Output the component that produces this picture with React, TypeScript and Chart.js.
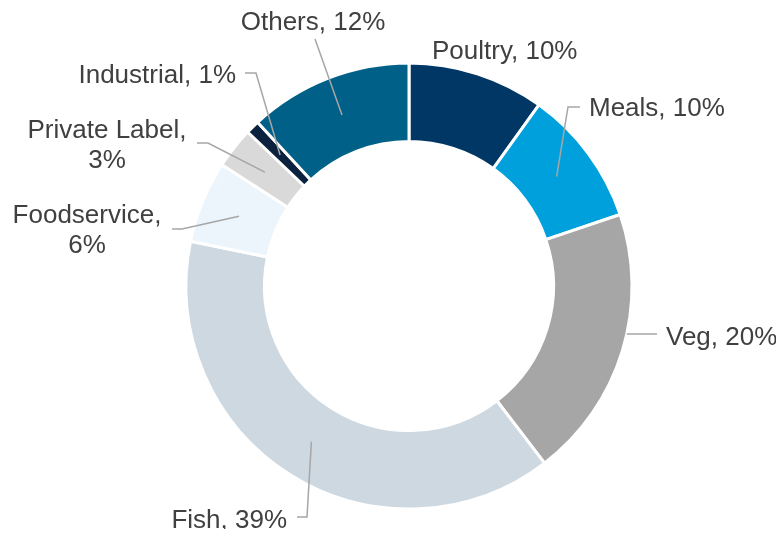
import React, { useEffect, useRef } from "react";
import { Chart, registerables } from "chart.js";

Chart.register(...registerables);

const categories = ["Poultry", "Meals", "Veg", "Fish", "Foodservice", "Private Label", "Industrial", "Others"];
const shares = [10, 10, 20, 39, 6, 3, 1, 12];
const colors = ["#003764", "#00A0DC", "#A6A6A6", "#CDD8E1", "#EBF5FB", "#D9D9D9", "#0C2340", "#006087"];

// label layout (canvas coords): text lines, anchor, alignment, leader line start/elbow
type LabelLayout = {
  lines: string[];
  x: number;
  y: number; // baseline of first line
  align: CanvasTextAlign;
  leader: number[][] | null; // points before the arc anchor
  toOuter?: boolean;
};

const labelLayout: LabelLayout[] = [
  { lines: ["Poultry, 10%"], x: 424, y: 51, align: "left", leader: null },
  { lines: ["Meals, 10%"], x: 581, y: 108, align: "left", leader: [[572, 99], [560, 99]] },
  { lines: ["Veg, 20%"], x: 658, y: 337, align: "left", leader: [[649, 326]], toOuter: true },
  { lines: ["Fish, 39%"], x: 279, y: 520, align: "right", leader: [[289, 509], [299, 509]] },
  { lines: ["Foodservice,", "6%"], x: 79, y: 215, align: "center", leader: [[164, 221], [174, 221]] },
  { lines: ["Private Label,", "3%"], x: 99, y: 130, align: "center", leader: [[189, 135], [200, 135]] },
  { lines: ["Industrial, 1%"], x: 228, y: 75, align: "right", leader: [[237, 65], [248, 65]] },
  { lines: ["Others, 12%"], x: 305, y: 22, align: "center", leader: [[307, 31]] },
];

const FONT = "26px 'Liberation Sans', Arial, sans-serif";
const TEXT_COLOR = "#404040";
const LINE_COLOR = "#A6A6A6";

const labelPlugin = {
  id: "outerLabels",
  afterDraw(chart: any) {
    const ctx = chart.ctx as CanvasRenderingContext2D;
    const meta = chart.getDatasetMeta(0);
    ctx.save();
    meta.data.forEach((arc: any, i: number) => {
      const lay = labelLayout[i];
      if (!lay) return;
      if (lay.leader) {
        const pts = lay.leader.map((p) => [p[0], p[1]]);
        let end: number[];
        if (lay.toOuter) {
          const y = pts[0][1];
          const dy = y - arc.y;
          const r = arc.outerRadius;
          const dx = Math.sqrt(Math.max(r * r - dy * dy, 0));
          end = [arc.x + dx, y];
        } else {
          const pos = arc.tooltipPosition(false);
          end = [pos.x, pos.y];
        }
        pts.push(end);
        ctx.beginPath();
        ctx.strokeStyle = LINE_COLOR;
        ctx.lineWidth = 1.5;
        ctx.moveTo(pts[0][0], pts[0][1]);
        for (let k = 1; k < pts.length; k++) ctx.lineTo(pts[k][0], pts[k][1]);
        ctx.stroke();
      }
      ctx.font = FONT;
      ctx.fillStyle = TEXT_COLOR;
      ctx.textAlign = lay.align;
      ctx.textBaseline = "alphabetic";
      lay.lines.forEach((line, li) => {
        ctx.fillText(line, lay.x, lay.y + li * 30);
      });
    });
    ctx.restore();
  },
};

export default function App() {
  const ref = useRef<HTMLCanvasElement | null>(null);
  useEffect(() => {
    if (!ref.current) return;
    const chart = new Chart(ref.current, {
      type: "doughnut",
      data: {
        labels: categories,
        datasets: [
          {
            data: shares,
            backgroundColor: colors,
            borderColor: "#FFFFFF",
            borderWidth: 3,
            hoverOffset: 0,
          },
        ],
      },
      options: {
        animation: false,
        responsive: false,
        maintainAspectRatio: false,
        radius: 223,
        cutout: "64.8%",
        layout: { padding: { left: 34, right: 0, top: 35, bottom: 0 } },
        plugins: {
          legend: { display: false },
          tooltip: { enabled: false },
        },
      } as any,
      plugins: [labelPlugin],
    });
    return () => chart.destroy();
  }, []);
  return (
    <div style={{ width: 768, height: 521 }}>
      <canvas ref={ref} width={768} height={521} />
    </div>
  );
}
